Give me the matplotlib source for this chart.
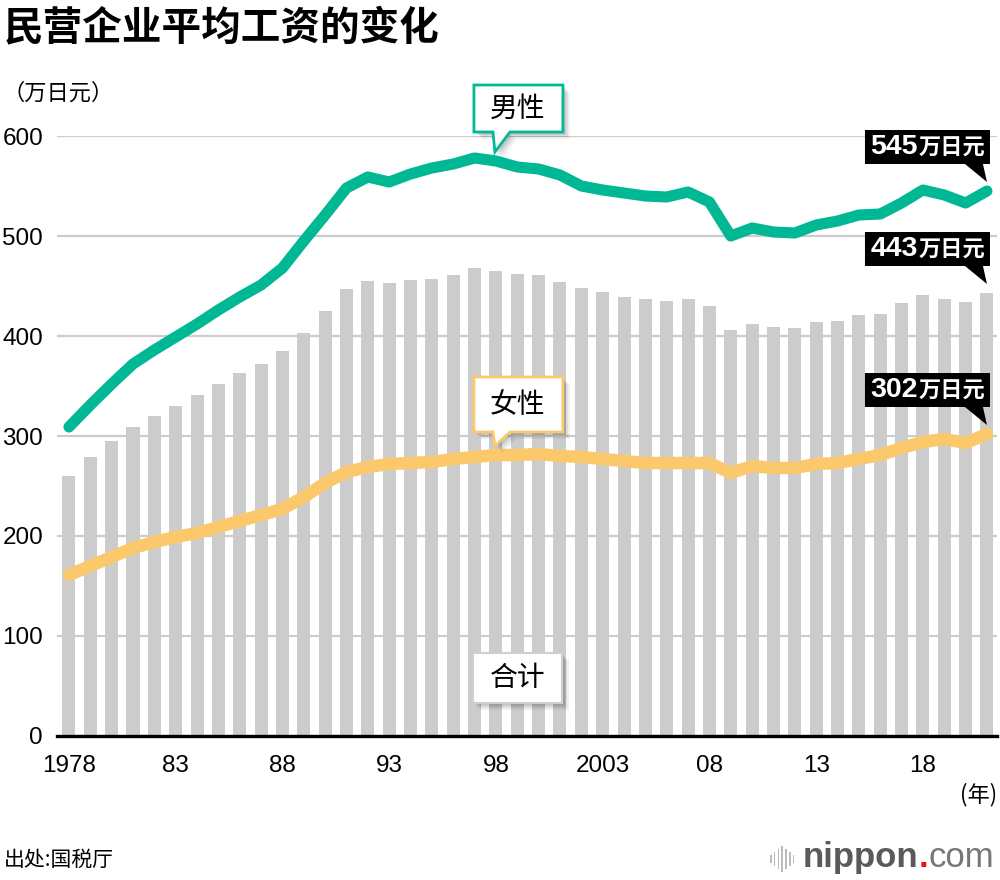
import matplotlib
matplotlib.use('Agg')
import matplotlib.pyplot as plt
import matplotlib.transforms as mtransforms
from matplotlib.patches import Polygon, Rectangle

# ---------------- data ----------------
years = list(range(1978, 2022))
total = [260, 279, 295, 309, 320, 330, 341, 352, 363, 372, 385, 403, 425, 447, 455, 453,
         456, 457, 461, 468, 465, 462,
         461, 454, 448, 444, 439, 437, 435, 437, 430, 406, 412, 409, 408, 414, 415, 421,
         422, 433, 441, 437, 434, 443]
male = [309, 331, 352, 372, 386, 399, 412, 426, 439, 451, 468, 495, 521, 548, 559, 554,
        562, 568, 572, 578, 575, 569,
        567, 561, 550, 546, 543, 540, 539, 544, 534, 500, 508, 504, 503, 511, 515, 521,
        522, 533, 546, 541, 533, 545]
female = [161, 170, 179, 188, 194, 199, 203, 209, 215, 221, 227, 239, 253, 264, 269, 272,
          273, 274, 277, 279, 281, 281,
          282, 280, 279, 277, 275, 273, 273, 273, 273, 263, 270, 268, 268, 272, 273, 277,
          281, 288, 294, 297, 293, 302]
xtick_years = [1978, 1983, 1988, 1993, 1998, 2003, 2008, 2013, 2018]
xtick_labels = ['1978', '83', '88', '93', '98', '2003', '08', '13', '18']
ytick_values = [0, 100, 200, 300, 400, 500, 600]

title = '民营企业平均工资的变化'
unit_label = '（万日元）'
year_label = '(年)'
source = '出处:国税厅'
male_name, female_name, total_name = '男性', '女性', '合计'
end_unit = '万日元'

GREEN = '#00b894'
ORANGE = '#fbc96c'
BAR = '#cccccc'
CJK = ['Noto Sans CJK SC', 'DejaVu Sans']
NUM = ['Liberation Sans', 'DejaVu Sans']

plt.rcParams['font.family'] = CJK

W, H = 1000, 880
fig = plt.figure(figsize=(W / 100, H / 100), dpi=100)
ax = fig.add_axes([57 / W, 1 - 736 / H, 940 / W, 600 / H])
ax.set_xlim(1977.44, 2021.47)
ax.set_ylim(0, 600)

ax.bar(years, total, width=0.61, color=BAR, zorder=1)
ax.plot(years, female, color=ORANGE, lw=9, solid_capstyle='round', solid_joinstyle='round',
        zorder=4, clip_on=False)
ax.plot(years, male, color=GREEN, lw=8, solid_capstyle='round', solid_joinstyle='round',
        zorder=4, clip_on=False)

ax.set_yticks(ytick_values)
ax.set_yticklabels([str(v) for v in ytick_values], fontsize=17.5, family=NUM)
ax.set_xticks(xtick_years)
ax.set_xticklabels(xtick_labels, fontsize=17.5, family=NUM)
ax.tick_params(axis='both', length=0)
ax.tick_params(axis='y', pad=10)
ax.tick_params(axis='x', pad=14)
for s in ax.spines.values():
    s.set_visible(False)
ax.yaxis.grid(True, color='#cccccc', lw=1.6, zorder=0)
ax.set_axisbelow(True)
ax.axhline(0, color='black', lw=2.4, zorder=5, clip_on=False)


def anchor_trans(x, y):
    return mtransforms.Affine2D() + mtransforms.ScaledTranslation(x, y, ax.transData)


def shaded_poly(x, y, verts, fc, ec, lw, z):
    tr = anchor_trans(x, y)
    for d, a in [(7, 0.06), (5, 0.08), (3, 0.10)]:
        sv = [(vx + d, vy - d) for vx, vy in verts]
        ax.add_patch(Polygon(sv, closed=True, transform=tr, fc='black', ec='none', alpha=a,
                             zorder=z, clip_on=False))
    ax.add_patch(Polygon(verts, closed=True, transform=tr, fc=fc, ec=ec, lw=lw,
                         zorder=z + 0.1, clip_on=False, joinstyle='miter'))


def name_callout(i, series, text, color, b0, b1):
    x, y = years[i], series[i]
    verts = [(-22, b0), (-3, b0), (-1, 9), (14, b0), (67, b0), (67, b1), (-22, b1)]
    shaded_poly(x, y, verts, 'white', color, 2.0, 6)
    ax.annotate(text, xy=(x, y), xytext=(22, (b0 + b1) / 2), textcoords='offset pixels',
                ha='center', va='center', fontsize=20, zorder=8, annotation_clip=False)


i98 = years.index(1998)
name_callout(i98, male, male_name, GREEN, 29, 76)
name_callout(i98, female, female_name, ORANGE, 23, 78)

# total label box
i99 = years.index(1999)
tv = [(-44, -25), (45, -25), (45, 25), (-44, 25)]
shaded_poly(years[i99], 58, tv, 'white', '#d0d0d0', 1.5, 6)
ax.annotate(total_name, xy=(years[i99], 58), xytext=(0, 0), textcoords='offset pixels',
            ha='center', va='center', fontsize=20, zorder=8, annotation_clip=False)


def end_label(series):
    x, y = years[-1], series[-1]
    verts = [(-122, 27), (-22, 27), (0, 9), (-4, 27), (3, 27), (3, 61), (-122, 61)]
    ax.add_patch(Polygon(verts, closed=True, transform=anchor_trans(x, y), fc='black',
                         ec='none', zorder=7, clip_on=False))
    ax.annotate(str(y), xy=(x, y), xytext=(-69, 44), textcoords='offset pixels',
                ha='right', va='center', fontsize=20.5, fontweight='bold', color='white',
                family=NUM, zorder=8, annotation_clip=False)
    ax.annotate(end_unit, xy=(x, y), xytext=(-68, 43), textcoords='offset pixels',
                ha='left', va='center', fontsize=16, fontweight='bold', color='white',
                zorder=8, annotation_clip=False)


end_label(male)
end_label(total)
end_label(female)

# texts
fig.text(4 / W, 1 - 28 / H, title, fontsize=28.5, fontweight='bold', va='center', ha='left')
fig.text(2 / W, 1 - 93 / H, unit_label, fontsize=16, va='center', ha='left')
fig.text(997 / W, 1 - 795 / H, year_label, fontsize=16, va='center', ha='right')
fig.text(4 / W, 1 - 860 / H, source, fontsize=15, va='center', ha='left')

# logo
renderer = fig.canvas.get_renderer()
base_y = 1 - 867 / H
t1 = fig.text(803 / W, base_y, 'nippon', fontsize=25, fontweight='bold', color='#5a5a5a',
              family=NUM, va='baseline', ha='left')
e1 = t1.get_window_extent(renderer)
t2 = fig.text(e1.x1 / W, base_y, '.', fontsize=25, color='#e8101a', family=NUM,
              fontweight='bold', va='baseline', ha='left')
e2 = t2.get_window_extent(renderer)
fig.text(e2.x1 / W, base_y, 'com', fontsize=25, color='#777777', family=NUM,
         va='baseline', ha='left')
bar_h = [8, 14, 20, 26, 20, 14, 8]
for k, h in enumerate(bar_h):
    cx = 770 + k * 3.8
    fig.add_artist(Rectangle((cx / W, (1 - 859 / H) - h / 2 / H), 1.6 / W, h / H,
                             transform=fig.transFigure, fc='#bbbbbb', ec='none'))

fig.savefig('out.png', dpi=100)
